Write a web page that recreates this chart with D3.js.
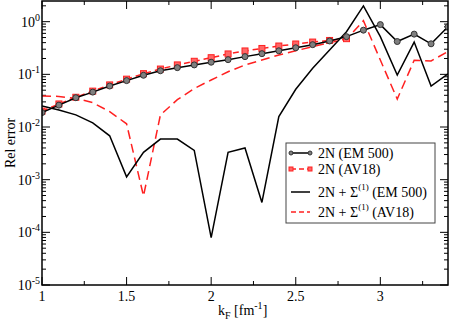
<!DOCTYPE html>
<html>
<head>
<meta charset="utf-8">
<script src="https://cdn.jsdelivr.net/npm/d3@7"></script>
<style>
  body { margin: 0; background: #fff; }
  text { font-family: "Liberation Serif", "Times New Roman", serif; }
</style>
</head>
<body>
<svg id="chart" width="450" height="326"></svg>
<script>
// k_F grid [fm^-1]
var kF = [1.0, 1.1, 1.2, 1.3, 1.4, 1.5, 1.6, 1.7, 1.8, 1.9, 2.0, 2.1, 2.2, 2.3,
          2.4, 2.5, 2.6, 2.7, 2.8, 2.9, 3.0, 3.1, 3.2, 3.3, 3.4];

var em500_2N = [0.0188, 0.026, 0.036, 0.046, 0.060, 0.076, 0.096, 0.117, 0.134, 0.151,
                0.170, 0.19, 0.217, 0.247, 0.28, 0.32, 0.366, 0.43, 0.52, 0.69,
                0.88, 0.42, 0.58, 0.38, 0.80];

var av18_2N = [0.020, 0.0274, 0.0367, 0.048, 0.063, 0.081, 0.103, 0.126, 0.151, 0.177,
               0.207, 0.244, 0.278, 0.31, 0.345, 0.377, 0.41, 0.44, 0.476];

var em500_sigma = [0.025, 0.021, 0.017, 0.012, 0.0068, 0.00113, 0.0033, 0.0059, 0.0059, 0.0036,
                   0.000079, 0.0033, 0.0040, 0.00037, 0.0158, 0.052, 0.13, 0.29, 0.646, 1.99,
                   0.52, 0.097, 0.41, 0.06, 0.102];

var av18_sigma = [0.039, 0.038, 0.035, 0.029, 0.0196, 0.0115, 0.00049, 0.017, 0.033, 0.054,
                  0.078, 0.112, 0.151, 0.187, 0.233, 0.28, 0.336, 0.40, 0.46, 1.045,
                  0.187, 0.034, 0.185, 0.18, 0.27];

var xTicks = [1, 1.5, 2, 2.5, 3];
var xMinor = [1.25, 1.75, 2.25, 2.75, 3.25];
var yExps = [0, -1, -2, -3, -4, -5];

var series = [
  { name: "2N (EM 500)", values: em500_2N, color: "#000", dash: null, marker: "circle" },
  { name: "2N (AV18)", values: av18_2N, color: "#ff2020", dash: "6,4", marker: "square" },
  { name: "2N + \u03a3", sup: "(1)", tail: " (EM 500)", values: em500_sigma, color: "#000", dash: null, marker: null },
  { name: "2N + \u03a3", sup: "(1)", tail: " (AV18)", values: av18_sigma, color: "#ff2020", dash: "9,5", marker: null }
];

var svg = d3.select('#chart');
var pL = 42, pR = 448, pT = 1, pB = 285;

var x = d3.scaleLinear().domain([1, 3.4]).range([pL, pR]);
var y = d3.scaleLog().domain([1e-5, 2.47]).range([pB, pT]);

var defs = svg.append('defs');
defs.append('clipPath').attr('id', 'clip').append('rect')
  .attr('x', pL).attr('y', pT).attr('width', pR - pL).attr('height', pB - pT);

// minor y ticks
var yMinor = [];
for (var e = -5; e <= 0; e++) {
  for (var m = 2; m <= 9; m++) {
    var v = m * Math.pow(10, e);
    if (v <= 2.47) yMinor.push(v);
  }
}

var ticks = svg.append('g').attr('stroke', '#000').attr('stroke-width', 1);
xTicks.forEach(function(t) {
  ticks.append('line').attr('x1', x(t)).attr('x2', x(t)).attr('y1', pB).attr('y2', pB - 8);
  ticks.append('line').attr('x1', x(t)).attr('x2', x(t)).attr('y1', pT).attr('y2', pT + 8);
});
xMinor.forEach(function(t) {
  ticks.append('line').attr('x1', x(t)).attr('x2', x(t)).attr('y1', pB).attr('y2', pB - 4);
  ticks.append('line').attr('x1', x(t)).attr('x2', x(t)).attr('y1', pT).attr('y2', pT + 4);
});
yExps.forEach(function(p) {
  var yy = y(Math.pow(10, p));
  ticks.append('line').attr('x1', pL).attr('x2', pL + 8).attr('y1', yy).attr('y2', yy);
  ticks.append('line').attr('x1', pR).attr('x2', pR - 8).attr('y1', yy).attr('y2', yy);
});
yMinor.forEach(function(v) {
  var yy = y(v);
  ticks.append('line').attr('x1', pL).attr('x2', pL + 4).attr('y1', yy).attr('y2', yy);
  ticks.append('line').attr('x1', pR).attr('x2', pR - 4).attr('y1', yy).attr('y2', yy);
});

// tick labels
svg.selectAll('.xlab').data(xTicks).enter().append('text')
  .attr('x', function(d) { return x(d); })
  .attr('y', 301)
  .attr('text-anchor', 'middle')
  .attr('font-size', 14)
  .text(function(d) { return d; });

var yl = svg.selectAll('.ylab').data(yExps).enter().append('text')
  .attr('x', 40)
  .attr('y', function(d) { return y(Math.pow(10, d)) + 5; })
  .attr('text-anchor', 'end')
  .attr('font-size', 14);
yl.append('tspan').text('10');
yl.append('tspan').attr('dy', -6).attr('font-size', 10).text(function(d) { return d; });

// axis titles
svg.append('text')
  .attr('transform', 'translate(15,' + (pT + pB) / 2 + ') rotate(-90)')
  .attr('text-anchor', 'middle')
  .attr('font-size', 14)
  .text('Rel error');

var xt = svg.append('text').attr('x', 218).attr('y', 315).attr('font-size', 14);
xt.append('tspan').text('k');
xt.append('tspan').attr('dy', 4).attr('font-size', 10).text('F');
xt.append('tspan').attr('dy', -4).text(' [fm');
xt.append('tspan').attr('dy', -6).attr('font-size', 10).text('-1');
xt.append('tspan').attr('dy', 6).text(']');

// lines
var plot = svg.append('g').attr('clip-path', 'url(#clip)');
var line = d3.line()
  .x(function(d) { return x(d[0]); })
  .y(function(d) { return y(d[1]); });

var drawOrder = [3, 2, 1, 0];
drawOrder.forEach(function(i) {
  var s = series[i];
  var pts = s.values.map(function(v, j) { return [kF[j], v]; });
  plot.append('path')
    .attr('d', line(pts))
    .attr('fill', 'none')
    .attr('stroke', s.color)
    .attr('stroke-width', 1.5)
    .attr('stroke-dasharray', s.dash);
  if (s.marker === 'circle') {
    plot.selectAll('.c' + i).data(pts).enter().append('circle')
      .attr('cx', function(d) { return x(d[0]); })
      .attr('cy', function(d) { return y(d[1]); })
      .attr('r', 3)
      .attr('fill', '#7f7f7f')
      .attr('stroke', '#333')
      .attr('stroke-width', 1);
  } else if (s.marker === 'square') {
    plot.selectAll('.s' + i).data(pts).enter().append('rect')
      .attr('x', function(d) { return x(d[0]) - 3; })
      .attr('y', function(d) { return y(d[1]) - 3; })
      .attr('width', 6).attr('height', 6)
      .attr('fill', '#ff6666')
      .attr('stroke', '#ff2020')
      .attr('stroke-width', 1);
  }
});

// frame
svg.append('rect')
  .attr('x', pL).attr('y', pT).attr('width', pR - pL).attr('height', pB - pT)
  .attr('fill', 'none').attr('stroke', '#000').attr('stroke-width', 1.5);

// legend
var lg = svg.append('g');
lg.append('rect').attr('x', 286).attr('y', 143).attr('width', 149).attr('height', 80)
  .attr('fill', '#fff').attr('stroke', '#444').attr('stroke-width', 1);
var legY = [153, 169, 192, 212];
series.forEach(function(s, i) {
  var yy = legY[i];
  lg.append('line').attr('x1', 291).attr('x2', 310).attr('y1', yy).attr('y2', yy)
    .attr('stroke', s.color).attr('stroke-width', 1.5)
    .attr('stroke-dasharray', s.dash ? '5,3' : null);
  [291, 310].forEach(function(mx) {
    if (s.marker === 'circle') {
      lg.append('circle').attr('cx', mx).attr('cy', yy).attr('r', 2)
        .attr('fill', '#7f7f7f').attr('stroke', '#333');
    } else if (s.marker === 'square') {
      lg.append('rect').attr('x', mx - 2).attr('y', yy - 2).attr('width', 4).attr('height', 4)
        .attr('fill', '#ff6666').attr('stroke', '#ff2020');
    }
  });
  var t = lg.append('text').attr('x', 318).attr('y', yy + 5).attr('font-size', 14);
  t.append('tspan').text(s.name);
  if (s.sup) {
    t.append('tspan').attr('dy', -7).attr('font-size', 9).text(s.sup);
    t.append('tspan').attr('dy', 7).text(s.tail);
  }
});
</script>
</body>
</html>
